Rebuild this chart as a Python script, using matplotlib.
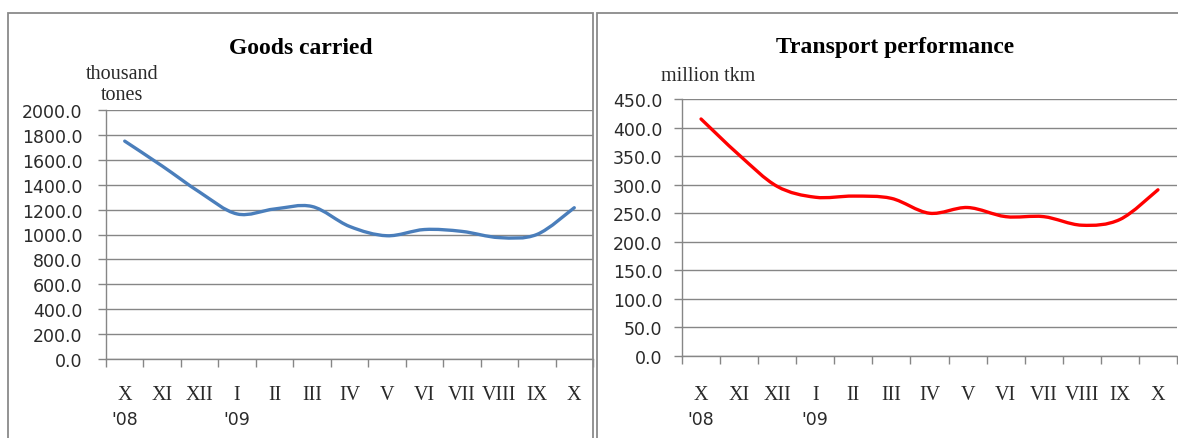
import matplotlib
matplotlib.use("Agg")
import matplotlib.pyplot as plt
from matplotlib.path import Path
from matplotlib.patches import PathPatch, Rectangle
import matplotlib.transforms as mtransforms

# dados
meses = ["X", "XI", "XII", "I", "II", "III", "IV", "V", "VI", "VII", "VIII", "IX", "X"]
anos = {0: "'08", 3: "'09"}
mercadorias = [1750, 1550, 1340, 1165, 1205, 1225, 1065, 990, 1040, 1025, 975, 1000, 1215]
desempenho = [415, 352, 297, 278, 280, 276, 250, 260, 244, 244, 229, 239, 291]

cinza = "#868686"


# curva suavizada (tipo Excel) com bezier cúbica
def curvaSuave(ax, xs, ys, cor, lw):
    n = len(xs)
    pts = list(zip(xs, ys))
    verts = [pts[0]]
    codes = [Path.MOVETO]
    for i in range(n - 1):
        p0 = pts[i - 1] if i > 0 else pts[i]
        p1 = pts[i]
        p2 = pts[i + 1]
        p3 = pts[i + 2] if i + 2 < n else pts[i + 1]
        c1 = (p1[0] + (p2[0] - p0[0]) / 6, p1[1] + (p2[1] - p0[1]) / 6)
        c2 = (p2[0] - (p3[0] - p1[0]) / 6, p2[1] - (p3[1] - p1[1]) / 6)
        verts += [c1, c2, p2]
        codes += [Path.CURVE4] * 3
    ax.add_patch(PathPatch(Path(verts, codes), facecolor="none", edgecolor=cor,
                           lw=lw, capstyle="round", joinstyle="round", zorder=3))


def montaEixo(ax, valores, cor, ymax, passo, titulo, unidade, titulo_x, unidade_x, unidade_y, pad):
    x = list(range(len(valores)))
    curvaSuave(ax, x, valores, cor, 2.4)
    ax.set_xlim(-0.5, len(valores) - 0.5)
    ax.set_ylim(0, ymax)
    ax.set_yticks([i * passo for i in range(int(ymax / passo) + 1)])
    ax.set_yticklabels([f"{v:.1f}" for v in ax.get_yticks()], fontsize=12.5,
                       family="DejaVu Sans", color="#2a2a2a")
    ax.set_xticks([i - 0.5 for i in range(len(valores) + 1)])
    ax.set_xticklabels([])
    ax.tick_params(axis="y", length=6, color=cinza, width=1, pad=pad)
    ax.tick_params(axis="x", length=6, color=cinza, width=1, direction="out")
    ax.yaxis.grid(True, color=cinza, lw=1)
    ax.set_axisbelow(True)
    for s in ["top", "right"]:
        ax.spines[s].set_visible(False)
    for s in ["left", "bottom"]:
        ax.spines[s].set_color(cinza)
        ax.spines[s].set_linewidth(1)
    trans = mtransforms.blended_transform_factory(ax.transData, fig.transFigure)
    for i, m in enumerate(meses):
        ax.text(i, 1 - 396 / 439, m, transform=trans, ha="center", va="center",
                fontsize=14.5, family="Liberation Serif", color="#2a2a2a")
    for i, a in anos.items():
        ax.text(i, 1 - 420 / 439, a, transform=trans, ha="center", va="center",
                fontsize=12.5, family="DejaVu Sans", color="#2a2a2a")
    fig.text(titulo_x, 1 - 48 / 439, titulo, ha="center", va="center", fontsize=17,
             family="Liberation Serif", fontweight="bold")
    fig.text(unidade_x, unidade_y, unidade, ha="center", va="center", fontsize=14.5,
             family="Liberation Serif", color="#2a2a2a", linespacing=1.15)


fig = plt.figure(figsize=(11.78, 4.39), dpi=100)

# molduras dos painéis
fig.patches.append(Rectangle((8 / 1178, -0.1), 585 / 1178, 1.1 - 14 / 439, transform=fig.transFigure,
                             fill=False, edgecolor="#8a8a8a", lw=1.3))
fig.patches.append(Rectangle((597 / 1178, -0.1), 600 / 1178, 1.1 - 14 / 439, transform=fig.transFigure,
                             fill=False, edgecolor="#8a8a8a", lw=1.3))

ax1 = fig.add_axes([106 / 1178, 1 - 360 / 439, 487 / 1178, 249 / 439])
ax2 = fig.add_axes([682 / 1178, 1 - 357 / 439, 495 / 1178, 257 / 439])

montaEixo(ax1, mercadorias, "#4a7ebb", 2000, 200, "Goods carried", "thousand\ntones",
          301 / 1178, 122 / 1178, 1 - 85 / 439, 11)
montaEixo(ax2, desempenho, "#ff0000", 450, 50, "Transport performance", "million tkm",
          895 / 1178, 708 / 1178, 1 - 77 / 439, 8)

fig.savefig("out.png", dpi=100)
